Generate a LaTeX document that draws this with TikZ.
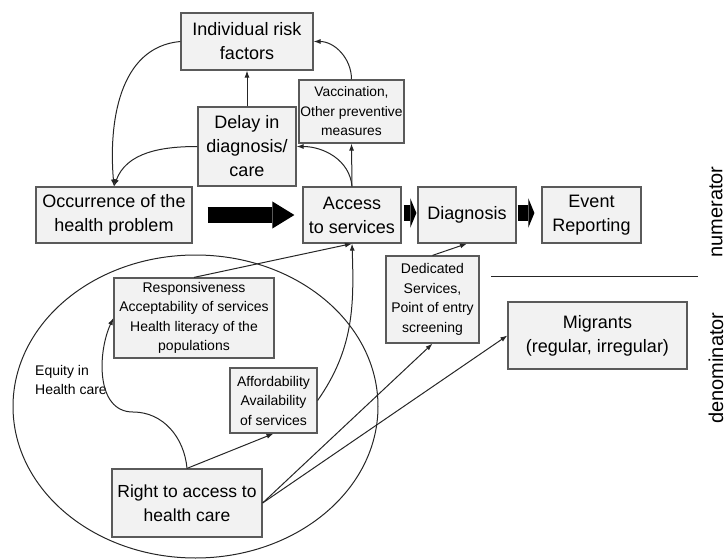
\documentclass[tikz,border=0pt]{standalone}
\usepackage{fontspec}
\setmainfont{Liberation Sans}
\usetikzlibrary{arrows.meta}
\definecolor{boxfill}{HTML}{F2F2F2}
\definecolor{boxline}{HTML}{5A5A5A}
\definecolor{linecol}{HTML}{262626}
\tikzset{
  box/.style={draw=boxline, fill=boxfill, line width=1.2pt, align=center, inner sep=1pt},
  bigtext/.style={font=\fontsize{18}{24}\selectfont},
  smalltext/.style={font=\fontsize{14}{19.5}\selectfont},
  sidetext/.style={font=\fontsize{20}{24}\selectfont, rotate=90},
  conn/.style={draw=linecol, line width=1pt, -{Latex[length=7pt,width=5pt]}},
  fat/.style={line width=15pt, -{Triangle[length=22pt,width=27pt,line width=0pt]}},
  stub/.style={line width=15pt, -{Triangle[length=6pt,width=29pt,line width=0pt]}},
}
\begin{document}
\begin{tikzpicture}[x=1pt,y=-1pt]
	\useasboundingbox (0,0) rectangle (726,559);

	\draw[linecol, line width=1pt] (195.5,406.5) ellipse [x radius=182.5pt, y radius=151.5pt];

	\node(indiv) [box,bigtext,minimum width=132pt,minimum height=57pt] at (247,41.5) {Individual risk\\factors};
	\node(delay) [box,bigtext,minimum width=98pt,minimum height=79pt] at (247,146.5) {Delay in\\diagnosis/\\care};
	\node(vacc) [box,font=\fontsize{13.8}{19.5}\selectfont,minimum width=105pt,minimum height=63pt] at (351.5,111.5) {Vaccination,\\Other preventive\\measures};
	\node(occur) [box,bigtext,minimum width=156pt,minimum height=56pt] at (114,215) {Occurrence of the\\health problem};
	\node(access) [box,bigtext,minimum width=98pt,minimum height=56pt] at (352,215) {Access\\to services};
	\node(diag) [box,bigtext,minimum width=98pt,minimum height=56pt] at (467,215) {Diagnosis};
	\node(report) [box,bigtext,minimum width=99pt,minimum height=56pt] at (591.5,215) {Event\\Reporting};
	\node(dedic) [box,smalltext,minimum width=93pt,minimum height=87pt] at (432.5,299.5) {Dedicated\\Services,\\Point of entry\\screening};
	\node(migr) [box,bigtext,minimum width=179pt,minimum height=67pt] at (597.5,335.5) {Migrants\\(regular, irregular)};
	\node(resp) [box,smalltext,minimum width=160pt,minimum height=80pt] at (194,318) {Responsiveness\\Acceptability of services\\Health literacy of the\\populations};
	\node(afford) [box,smalltext,minimum width=87pt,minimum height=65pt] at (273.5,400.5) {Affordability\\Availability\\of services};
	\node(rights) [box,font=\fontsize{17.5}{24}\selectfont,minimum width=150pt,minimum height=68pt] at (187,503) {Right to access to\\health care};
	\node(equity) [smalltext,align=left,anchor=west,inner sep=0pt] at (35,380) {Equity in\\Health care};
	\node(num) [sidetext] at (716,212) {numerator};
	\node(denom) [sidetext] at (716,368) {denominator};

	\draw[linecol, line width=1pt] (491,276) -- (698,276);

	\draw[fat] ([xshift=15pt]occur.east) -- ([xshift=-8pt]access.west);
	\draw[stub] ([xshift=2pt,yshift=2pt]access.east) -- ([xshift=-1pt,yshift=2pt]diag.west);
	\draw[stub] ([xshift=1pt,yshift=2pt]diag.east) -- ([xshift=-7pt,yshift=2pt]report.west);

	\draw[conn] (delay) -- (indiv);
	\draw[conn] (indiv.west) to[out=185,in=95] (occur.north);
	\draw[conn] (delay.west) to[out=180,in=70] (occur.north);
	\draw[conn] (vacc.north) to[out=90,in=0] (indiv.east);
	\draw[conn] (access.north) -- (vacc.south);
	\draw[conn] (access.north) to[out=95,in=0] (delay.east);
	\draw[conn] (resp.north) -- (access.south);
	\draw[conn] (afford.east) to[out=55,in=-88] (access.south);
	\draw[conn] (rights.north) to[out=95,in=0] (133,412) to[out=180,in=-115] (resp.west);
	\draw[conn] (rights.north) -- (afford.south);
	\draw[conn] (rights.east) -- (dedic.south);
	\draw[conn] (rights.east) -- (migr.west);
	\draw[conn] (dedic.north) -- (diag.south);
\end{tikzpicture}
\end{document}
